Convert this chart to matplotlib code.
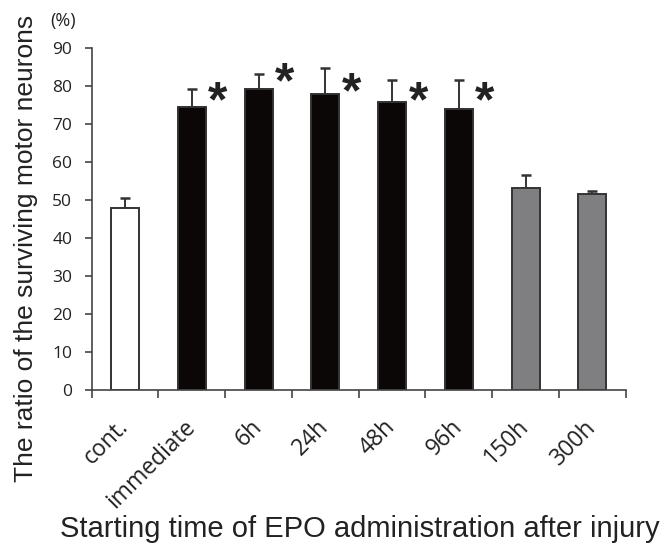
import matplotlib
matplotlib.use("Agg")
import matplotlib.pyplot as plt
import matplotlib.transforms as mtransforms

plt.rcParams['font.family'] = ['Liberation Sans', 'DejaVu Sans']

categories = ["cont.", "immediate", "6h", "24h", "48h", "96h", "150h", "300h"]
values = [48.0, 74.5, 79.1, 77.8, 75.7, 74.0, 53.2, 51.7]
errors = [2.5, 4.7, 4.0, 6.9, 5.8, 7.7, 3.4, 0.8]
colors = ["#ffffff", "#0a0706", "#0a0706", "#0a0706", "#0a0706", "#0a0706", "#7f7e81", "#7f7e81"]
significant = [False, True, True, True, True, True, False, False]
star_y = [0, 79.4, 84.4, 82.0, 79.4, 79.4, 0, 0]

fig = plt.figure(figsize=(6.66, 5.48), dpi=100)
ax = fig.add_axes([91.7/666, 1-390/548, 534/666, 342/548])

x = list(range(len(categories)))
ax.bar(x, values, width=0.42, color=colors, edgecolor="#333333", linewidth=1.4, zorder=2)
ax.errorbar(x, values, yerr=[[0]*len(errors), errors], fmt='none', ecolor="#333333",
            elinewidth=1.4, capsize=3.3, capthick=1.8, zorder=1)

star_fs = 36
for i, (s, y) in enumerate(zip(significant, star_y)):
    if s:
        ax.annotate("*", xy=(i + 0.39, y), xytext=(0, -0.57*star_fs), textcoords='offset points',
                    fontsize=star_fs, ha='center', va='baseline', color="#222222",
                    fontweight='bold')

ax.set_xlim(-0.5, len(categories) - 0.5)
ax.set_ylim(0, 90)
ax.set_yticks(range(0, 91, 10))
ax.tick_params(axis='y', labelsize=12.5, length=5, width=1.2, color="#444444", pad=9, labelcolor="#222222")
for lab in ax.get_yticklabels():
    lab.set_family(['Open Sans', 'DejaVu Sans'])
ax.set_xticks([i - 0.5 for i in range(len(categories) + 1)])
ax.set_xticklabels([])
ax.tick_params(axis='x', length=6, width=1.2, color="#444444")
for sp in ['top', 'right']:
    ax.spines[sp].set_visible(False)
for sp in ['left', 'bottom']:
    ax.spines[sp].set_color("#444444")
    ax.spines[sp].set_linewidth(1.2)

# category labels rotated
offset = mtransforms.ScaledTranslation(0, -33.5/100, fig.dpi_scale_trans)
trans = mtransforms.blended_transform_factory(ax.transData, ax.transAxes) + offset
for i, c in enumerate(categories):
    ax.text(i, 0, c, transform=trans, rotation=45, ha='right', va='center',
            rotation_mode='anchor', fontsize=16.5, color="#222222",
            family=['Open Sans', 'DejaVu Sans'])

fig.text(26/666, 1-248/548, "The ratio of the surviving motor neurons", rotation=90,
         ha='center', va='center', fontsize=19, color="#222222")
fig.text(63/666, 1-21/548, "(%)", ha='center', va='center', fontsize=13, color="#222222",
         family=['Open Sans', 'DejaVu Sans'])
fig.text(360/666, 1-537/548, "Starting time of EPO administration after injury",
         ha='center', va='baseline', fontsize=21, color="#222222")

fig.savefig("out.png", dpi=100)
